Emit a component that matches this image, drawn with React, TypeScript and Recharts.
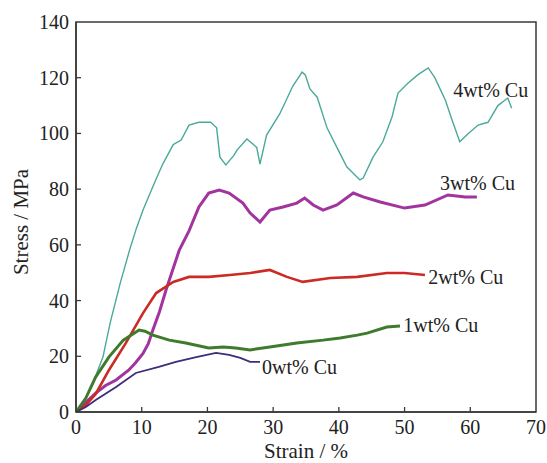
import { LineChart, Line, XAxis, YAxis, ReferenceArea, ReferenceDot } from 'recharts';

// strain (%) / stress (MPa) pairs
const cu4 = [
  [0, 0], [1.5, 5], [3, 13], [4.1, 19.7], [5.2, 32], [6.7, 46], [8.2, 58.5], [9.2, 66],
  [10.2, 72.5], [11.9, 82], [13.2, 89], [14.8, 96], [16, 97.6], [17.2, 103], [18.7, 104], [20.5, 104],
  [21.4, 102], [21.9, 91.5], [22.8, 88.7], [24, 92], [24.5, 94], [26, 98], [27, 96], [27.5, 95],
  [28, 89], [29, 99.4], [31, 107], [33, 117], [34.4, 122], [34.9, 121], [35.6, 116], [36.7, 113],
  [38.2, 102], [39.7, 95], [41.2, 88], [43.2, 83.3], [43.7, 84], [45.2, 91.5], [46.7, 97],
  [48.1, 106], [49, 114.5], [50.5, 118], [52, 121], [53.6, 123.5], [54.6, 120], [55.4, 116],
  [56.2, 112], [57.2, 105], [58.4, 97], [59.7, 100], [61.2, 103], [62.7, 104], [64.2, 110],
  [65.7, 112.7], [66.3, 109],
];

const cu3 = [
  [0, 0], [1.5, 3.5], [3, 6.8], [4.5, 9.5], [6.1, 11.5], [8, 15], [9, 17.5], [10.2, 21], [11, 24.5],
  [11.7, 29.4], [12.7, 36], [13.7, 43.8], [15.7, 58], [17.2, 65], [18.7, 73.6], [20.2, 78.6],
  [21.8, 79.7], [23.3, 78.6], [25.4, 75], [26.5, 71.4], [28, 68.2], [29.5, 72.5], [31.5, 73.6],
  [33.6, 75], [34.8, 76.8], [36.1, 74.3], [37.6, 72.5], [39.7, 74.3], [42.2, 78.6], [43.7, 77.2],
  [46.3, 75.4], [50, 73.2], [53.1, 74.3], [56.6, 77.9], [59.2, 77.2], [61, 77.2],
];

const cu2 = [
  [0, 0], [1.5, 2.5], [3, 6.5], [5, 15], [7.6, 24.8], [10.2, 35.5], [12.2, 42.7], [14.8, 46.7],
  [17.2, 48.5], [20.2, 48.5], [23.4, 49.2], [26.5, 49.9], [29.5, 51], [32.1, 48.5], [34.5, 46.7],
  [38.7, 48.1], [42.8, 48.5], [47.3, 49.9], [50, 49.9], [53.1, 49.2],
];

const cu1 = [
  [0, 0], [1.5, 5], [3, 12.6], [5, 19.7], [7.2, 25.8], [9.6, 29.4], [10.5, 29], [11.7, 27.6],
  [14.2, 25.8], [16.7, 24.8], [20.2, 23], [22.4, 23.3], [24.3, 23], [26.5, 22.3], [29.5, 23.3],
  [33.6, 24.8], [37.6, 25.8], [40.2, 26.6], [42.8, 27.6], [44.3, 28.3], [47.3, 30.5], [49.3, 30.9],
];

const cu0 = [
  [0, 0], [1.5, 1.8], [3, 4.3], [6.1, 9], [9.1, 14], [12.6, 16.2], [15.2, 18], [18.3, 19.7],
  [21.3, 21.2], [23.3, 20.5], [25, 19.4], [26.5, 18], [28, 18],
];

const seriesNames = ['4wt% Cu', '3wt% Cu', '2wt% Cu', '1wt% Cu', '0wt% Cu'];
const seriesData = [cu4, cu3, cu2, cu1, cu0];
const seriesColors = ['#4ba99b', '#a2349e', '#cb2b24', '#3e7b2d', '#3e2d78'];
const seriesWidths = [1.4, 3, 2.6, 3, 1.8];
// where each curve's name sits (strain, stress)
const labelPos = [[57.4, 115.6], [55.4, 82.2], [53.6, 48.5], [49.8, 31.2], [28.3, 16.2]];

const xTicks = [0, 10, 20, 30, 40, 50, 60, 70];
const yTicks = [0, 20, 40, 60, 80, 100, 120, 140];

const FONT = '"Liberation Serif", "DejaVu Serif", serif';
const AXIS = '#3a3a3a';

const XTick = ({ x, y, payload }: any) => (
  <g>
    {payload.value > 0 && payload.value < 70 && (
      <line x1={x} x2={x} y1={y} y2={y - 5} stroke={AXIS} strokeWidth={1.3} />
    )}
    <text x={x} y={y + 22} textAnchor="middle" fontFamily={FONT} fontSize={20} fill="#222">
      {payload.value}
    </text>
  </g>
);

const YTick = ({ x, y, payload }: any) => (
  <g>
    {payload.value > 0 && payload.value < 140 && (
      <line x1={x} x2={x + 5} y1={y} y2={y} stroke={AXIS} strokeWidth={1.3} />
    )}
    <text x={x - 7} y={y + 7} textAnchor="end" fontFamily={FONT} fontSize={20} fill="#222">
      {payload.value}
    </text>
  </g>
);

const YTitle = ({ viewBox }: any) => {
  const cx = viewBox.x + viewBox.width - 55;
  const cy = viewBox.y + viewBox.height / 2 + 5;
  return (
    <text x={cx} y={cy} transform={`rotate(-90, ${cx}, ${cy})`} textAnchor="middle"
      dominantBaseline="central" fontFamily={FONT} fontSize={21} fill="#222">
      Stress / MPa
    </text>
  );
};

const XTitle = ({ viewBox }: any) => {
  const cx = viewBox.x + viewBox.width / 2;
  return (
    <text x={cx} y={viewBox.y + 46} textAnchor="middle" fontFamily={FONT} fontSize={21} fill="#222">
      Strain / %
    </text>
  );
};

export default function App() {
  return (
    <div style={{ position: 'absolute', left: 0, top: 0, background: '#fff' }}>
      <LineChart width={547} height={463} margin={{ top: 22, right: 11, bottom: 50, left: 75 }}>
        <XAxis type="number" dataKey="x" domain={[0, 70]} ticks={xTicks} height={1}
          tickSize={0} tickMargin={0} tickLine={false} axisLine={{ stroke: AXIS, strokeWidth: 1.5 }}
          tick={<XTick />} label={<XTitle />} interval={0} allowDataOverflow />
        <YAxis type="number" dataKey="y" domain={[0, 140]} ticks={yTicks} width={1}
          tickSize={0} tickMargin={0} tickLine={false} axisLine={{ stroke: AXIS, strokeWidth: 1.5 }}
          tick={<YTick />} label={<YTitle />} interval={0} allowDataOverflow />
        <ReferenceArea x1={0} x2={70} y1={0} y2={140} fill="none" stroke={AXIS} strokeWidth={1.5}
          ifOverflow="visible" />
        {seriesData.map((s, i) => (
          <Line key={seriesNames[i]} data={s.map(([x, y]) => ({ x, y }))} dataKey="y" type="linear"
            stroke={seriesColors[i]} strokeWidth={seriesWidths[i]} dot={false}
            isAnimationActive={false} />
        ))}
        {labelPos.map(([x, y], i) => (
          <ReferenceDot key={seriesNames[i]} x={x} y={y} r={0} fill="none" stroke="none"
            label={{ value: seriesNames[i], position: 'right', offset: 0, fill: '#222',
              fontFamily: FONT, fontSize: 20 }} />
        ))}
      </LineChart>
    </div>
  );
}
